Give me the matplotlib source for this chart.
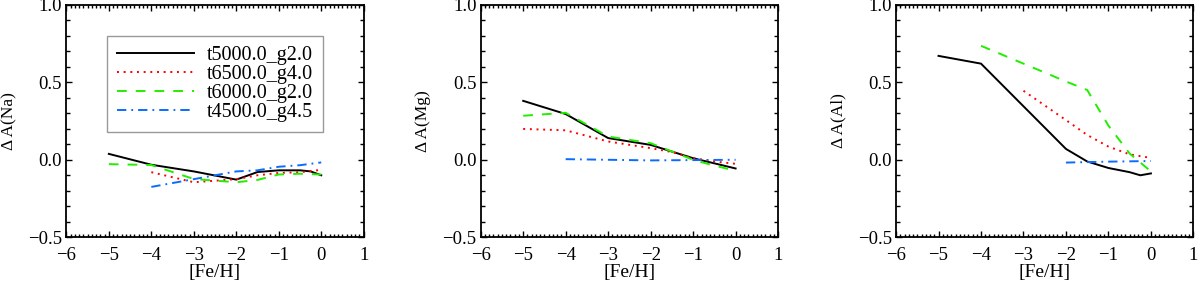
import matplotlib
matplotlib.use("Agg")
import matplotlib.pyplot as plt
from matplotlib.ticker import MultipleLocator

plt.rcParams['font.family'] = ['Liberation Serif', 'DejaVu Serif']
plt.rcParams['lines.scale_dashes'] = False

# ---------------- data ----------------
labels = ["t5000.0_g2.0", "t6500.0_g4.0", "t6000.0_g2.0", "t4500.0_g4.5"]

# Na
na_black_x = [-5, -4, -3, -2, -1.5, -1, -0.5, -0.25, 0]
na_black_y = [0.038, -0.032, -0.075, -0.128, -0.079, -0.068, -0.068, -0.075, -0.10]
na_red_x = [-4, -3, -2, -1.5, -1, -0.5, 0]
na_red_y = [-0.08, -0.145, -0.125, -0.10, -0.085, -0.08, -0.065]
na_green_x = [-5, -4, -3, -2, -1.5, -1, -0.5, 0]
na_green_y = [-0.028, -0.034, -0.124, -0.145, -0.13, -0.095, -0.09, -0.095]
na_blue_x = [-4, -3, -2, -1.5, -1, -0.5, 0]
na_blue_y = [-0.175, -0.125, -0.075, -0.068, -0.045, -0.035, -0.017]

# Mg
mg_black_x = [-5, -4, -3, -2, -1, 0]
mg_black_y = [0.38, 0.295, 0.14, 0.096, 0.01, -0.056]
mg_red_x = [-5, -4, -3, -2, -1.5, -1, -0.5, 0]
mg_red_y = [0.199, 0.19, 0.118, 0.075, 0.05, 0.011, -0.011, -0.026]
mg_green_x = [-5, -4, -3, -2, -1, -0.5, 0]
mg_green_y = [0.284, 0.303, 0.15, 0.107, 0.0, -0.038, -0.07]
mg_blue_x = [-4, -3, -2, -1, 0]
mg_blue_y = [0.004, 0.0, -0.004, -0.002, 0.0]

# Al
al_black_x = [-5, -4, -3, -2, -1.5, -1, -0.5, -0.25, 0]
al_black_y = [0.67, 0.62, 0.345, 0.07, -0.011, -0.053, -0.08, -0.10, -0.088]
al_red_x = [-3, -2, -1.5, -1, -0.5, 0]
al_red_y = [0.445, 0.256, 0.16, 0.085, 0.035, 0.012]
al_green_x = [-4, -3, -2, -1.5, -1, -0.5, 0]
al_green_y = [0.735, 0.62, 0.505, 0.45, 0.22, 0.04, -0.075]
al_blue_x = [-2, -1, 0]
al_blue_y = [-0.018, -0.012, -0.008]

ylabels = ["\u0394 A(Na)", "\u0394 A(Mg)", "\u0394 A(Al)"]
xlabel = "[Fe/H]"
xlim = (-6, 1)
ylim = (-0.5, 1.0)

panels = [
    [(na_black_x, na_black_y), (na_red_x, na_red_y), (na_green_x, na_green_y), (na_blue_x, na_blue_y)],
    [(mg_black_x, mg_black_y), (mg_red_x, mg_red_y), (mg_green_x, mg_green_y), (mg_blue_x, mg_blue_y)],
    [(al_black_x, al_black_y), (al_red_x, al_red_y), (al_green_x, al_green_y), (al_blue_x, al_blue_y)],
]

# ---------------- styles ----------------
lw = 1.4
styles = [
    dict(color="black", linestyle="-"),
    dict(color="#ff0000", linestyle=(0, (1.4, 3.4))),
    dict(color="#22ee00", linestyle=(0, (7.0, 6.5))),
    dict(color="#0a6cff", linestyle=(0, (6.7, 3.6, 1.3, 3.6))),
]

fig = plt.figure(figsize=(12, 2.84), dpi=100)
lefts = [0.0553, 0.4006, 0.7467]
for i, (left, series, ylab) in enumerate(zip(lefts, panels, ylabels)):
    ax = fig.add_axes([left, 0.1644, 0.2478, 0.819])
    for (x, y), st, lab in zip(series, styles, labels):
        ax.plot(x, y, lw=lw, label=lab, **st)
    ax.set_xlim(*xlim)
    ax.set_ylim(*ylim)
    ax.xaxis.set_major_locator(MultipleLocator(1))
    ax.xaxis.set_minor_locator(MultipleLocator(0.1))
    ax.yaxis.set_major_locator(MultipleLocator(0.5))
    ax.yaxis.set_minor_locator(MultipleLocator(0.1))
    ax.yaxis.set_major_formatter(plt.FuncFormatter(lambda v, p: ("%.1f" % v).replace("-", "\u2212")))
    ax.xaxis.set_major_formatter(plt.FuncFormatter(lambda v, p: ("%d" % round(v)).replace("-", "\u2212")))
    ax.tick_params(which="both", direction="in", top=True, right=True, labelsize=13.5, width=1.0)
    ax.tick_params(axis="x", which="major", length=4, pad=7)
    ax.tick_params(axis="x", which="minor", length=2)
    ax.tick_params(axis="y", which="major", length=4, pad=3)
    ax.tick_params(axis="y", which="minor", length=3)
    for sp in ax.spines.values():
        sp.set_linewidth(1.3)
    ax.set_xlabel(xlabel, fontsize=14, labelpad=0)
    ax.set_ylabel(ylab, fontsize=12.5, labelpad=8)
    if i == 0:
        leg = ax.legend(loc="upper left", bbox_to_anchor=(0.137, 0.867), borderaxespad=0,
                        fontsize=14.5, handlelength=3.8, handletextpad=0.65, labelspacing=0.0,
                        borderpad=0.5, fancybox=False, framealpha=1)
        leg.get_frame().set_edgecolor("#999999")
        leg.get_frame().set_linewidth(1.0)

fig.savefig("out.png", dpi=100)
